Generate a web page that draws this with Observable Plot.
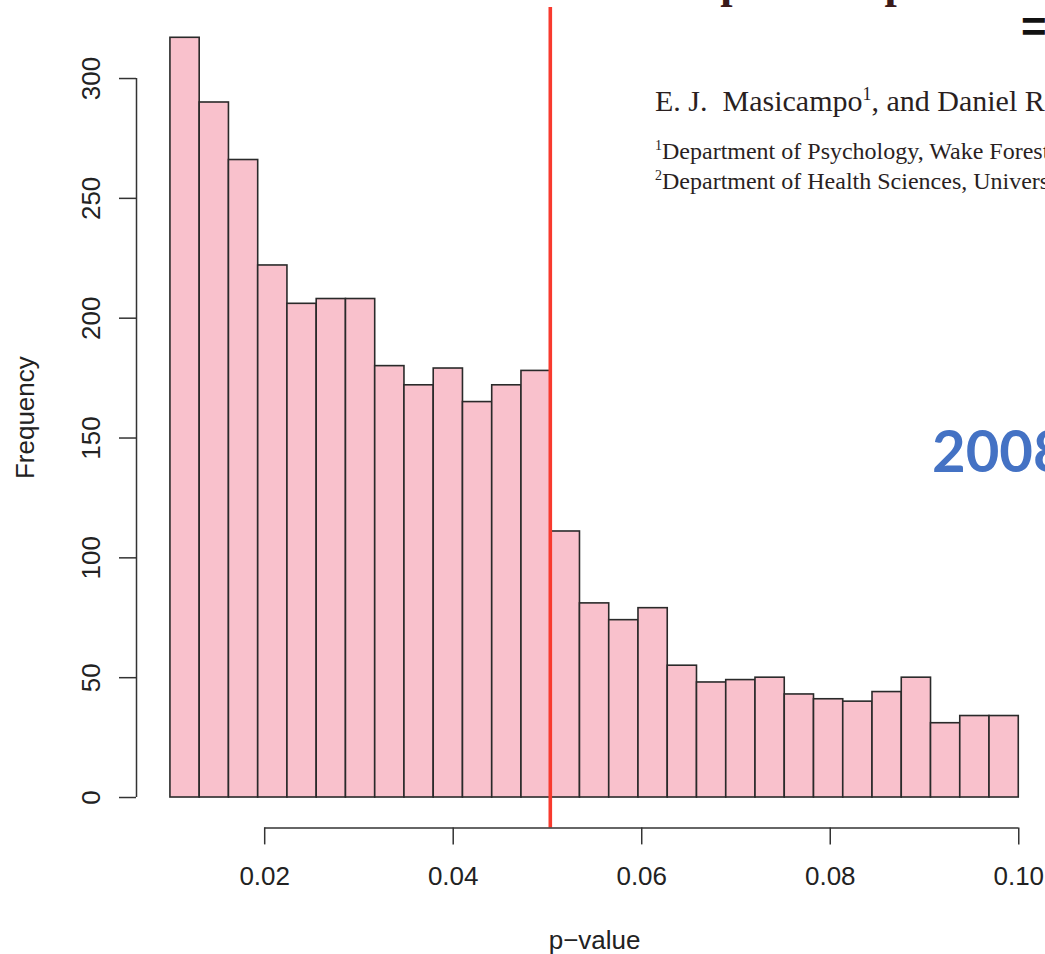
<!DOCTYPE html>
<html>
<head>
<meta charset="utf-8">
<script src="https://cdn.jsdelivr.net/npm/d3@7"></script>
<script src="https://cdn.jsdelivr.net/npm/@observablehq/plot@0.6"></script>
<style>
  html, body { margin: 0; padding: 0; background: #fff; }
  #chart svg { display: block; }
  .ov { white-space: pre; }
</style>
</head>
<body>
<div id="chart"></div>
<script>
// ---- data ----
const counts = [317, 290, 266, 222, 206, 208, 208, 180, 172, 179, 165, 172, 178,
                111, 81, 74, 79, 55, 48, 49, 50, 43, 41, 40, 44, 50, 31, 34, 34];
const binRange = [0.01, 0.10];
const xTicks = [0.02, 0.04, 0.06, 0.08, 0.10];
const yTicks = [0, 50, 100, 150, 200, 250, 300];
const cutoff = [0.0503];
const xLabel = ["p\u2212value"];
const yLabel = ["Frequency"];
const paperTitle = "A peculiar prevalence of p values just below .05";
const authors = ["E. J.  Masicampo", "1", ", and Daniel R. Lalande", "2"];
const affil1 = ["1", "Department of Psychology, Wake Forest University"];
const affil2 = ["2", "Department of Health Sciences, University of Quebec at Chicoutimi"];
const yearLabel = "2008";

// ---- table for the library ----
const w = (binRange[1] - binRange[0]) / counts.length;
const bins = counts.map((c, i) => ({x1: binRange[0] + i * w, x2: binRange[0] + (i + 1) * w, count: c}));
const xExt = 0.04 * (binRange[1] - binRange[0]);
const xDomain = [binRange[0] - xExt, binRange[1] + xExt];
const yMax = d3.max(counts);
const yDomain = [-0.04 * yMax, yMax * 1.04];

const W = 1045, H = 954;
const axisColor = "#333";
const chart = Plot.plot({
  width: W,
  height: H,
  marginLeft: 136,
  marginRight: 0,
  marginTop: 6.9,
  marginBottom: 126.6,
  style: {fontFamily: "'Liberation Sans', Arial, sans-serif", background: "#fff", color: "#222"},
  x: {domain: xDomain, range: [136, 1052.2]},
  y: {domain: yDomain},
  marks: [
    Plot.rect(bins, {x1: "x1", x2: "x2", y1: 0, y2: "count", fill: "#f9c1cc", stroke: "#2a2a2a", strokeWidth: 1.6}),
    Plot.ruleX(cutoff, {y1: yDomain[0], y2: yDomain[1], stroke: "#f83a2e", strokeWidth: 3.6}),
    Plot.ruleX([xDomain[0]], {y1: yTicks[0], y2: yTicks[yTicks.length - 1], stroke: axisColor, strokeWidth: 1.5}),
    Plot.ruleY([yDomain[0]], {x1: xTicks[0], x2: xTicks[xTicks.length - 1], stroke: axisColor, strokeWidth: 1.5}),
    Plot.axisY({ticks: yTicks, tickSize: 17, tickPadding: 20, tickRotate: -90, fontSize: 26, label: null, stroke: axisColor, strokeWidth: 1.5}),
    Plot.axisX({ticks: xTicks, tickSize: 17, tickPadding: 22, fontSize: 26, tickFormat: d3.format(".2f"), label: null, stroke: axisColor, strokeWidth: 1.5}),
    Plot.text(xLabel, {x: (xDomain[0] + xDomain[1]) / 2, y: yDomain[0], dy: 120.6, lineAnchor: "bottom", fontSize: 26, fill: "#222"}),
    Plot.text(yLabel, {x: xDomain[0], y: (yDomain[0] + yDomain[1]) / 2, dx: -102.5, rotate: -90, lineAnchor: "bottom", fontSize: 26, fill: "#222"})
  ]
});
document.getElementById("chart").appendChild(chart);

// ---- overlay of the pasted paper header ----
const svg = d3.select(chart);
const serif = "'Liberation Serif', 'Times New Roman', serif";
const ink = "#2a1f1f";
const ov = svg.append("g").attr("text-anchor", "start");
ov.append("text").attr("class", "ov")
  .attr("x", 680).attr("y", -2.5)
  .attr("font-family", serif).attr("font-weight", "bold").attr("font-size", 44)
  .attr("fill", "#3a1a1a").text(paperTitle);
ov.append("text").attr("class", "ov")
  .attr("x", 1021).attr("y", 42)
  .attr("font-family", "'Liberation Sans', Arial, sans-serif").attr("font-weight", "bold").attr("font-size", 44)
  .attr("fill", "#111").text("=");

const a = ov.append("text").attr("class", "ov")
  .attr("x", 655).attr("y", 111)
  .attr("font-family", serif).attr("font-size", 30).attr("fill", ink);
a.append("tspan").text(authors[0]);
a.append("tspan").attr("font-size", 18).attr("dy", -11).text(authors[1]);
a.append("tspan").attr("dy", 11).text(authors[2]);
a.append("tspan").attr("font-size", 18).attr("dy", -11).text(authors[3]);

[[affil1, 159], [affil2, 189]].forEach(([t, yy]) => {
  const e = ov.append("text").attr("class", "ov")
    .attr("x", 655).attr("y", yy)
    .attr("font-family", serif).attr("font-size", 24).attr("fill", ink);
  e.append("tspan").attr("font-size", 14).attr("dy", -9).text(t[0]);
  e.append("tspan").attr("dy", 9).text(t[1]);
});

ov.append("text").attr("class", "ov")
  .attr("x", 932).attr("y", 472)
  .attr("font-family", "Lato, 'Open Sans', sans-serif").attr("font-weight", "bold").attr("font-size", 58)
  .attr("fill", "#4472c4").text(yearLabel);
</script>
</body>
</html>
